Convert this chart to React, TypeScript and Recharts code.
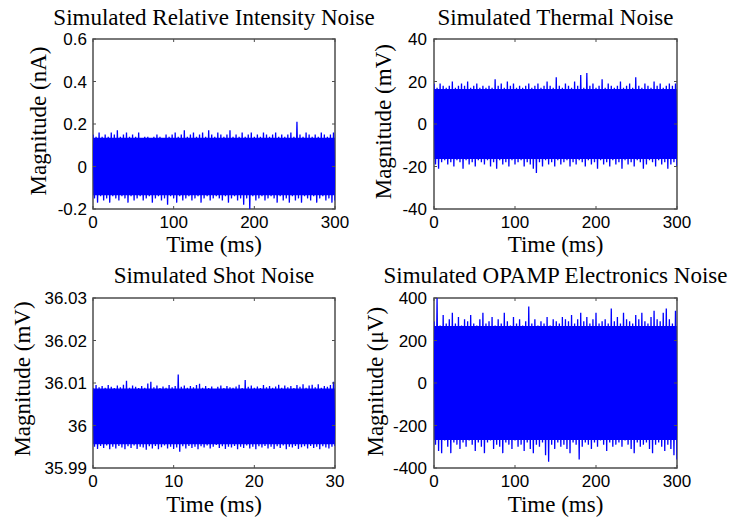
import React from 'react';
import { ComposedChart, Line, Area, XAxis, YAxis, ReferenceArea } from 'recharts';

// ---------- data (envelope of the simulated noise traces) ----------
const rinUpper = [
  0.15, 0.14, 0.16, 0.14, 0.15, 0.14, 0.16, 0.15, 0.17, 0.14,
  0.15, 0.16, 0.14, 0.15, 0.14, 0.16, 0.13, 0.14, 0.14, 0.13,
  0.14, 0.15, 0.14, 0.13, 0.15, 0.14, 0.15, 0.16, 0.14, 0.15,
  0.17, 0.14, 0.15, 0.16, 0.14, 0.15, 0.16, 0.14, 0.17, 0.15,
  0.14, 0.16, 0.15, 0.14, 0.15, 0.17, 0.14, 0.15, 0.14, 0.16,
  0.14, 0.15, 0.16, 0.14, 0.15, 0.14, 0.16, 0.15, 0.14, 0.15,
  0.16, 0.14, 0.15, 0.14, 0.15, 0.16, 0.14, 0.21, 0.15, 0.14,
  0.16, 0.15, 0.14, 0.15, 0.14, 0.16, 0.15, 0.14, 0.15, 0.16,
];
const rinLower = [
  -0.15, -0.17, -0.14, -0.16, -0.15, -0.17, -0.14, -0.15, -0.16, -0.14,
  -0.15, -0.17, -0.14, -0.16, -0.15, -0.14, -0.16, -0.15, -0.14, -0.17,
  -0.15, -0.14, -0.16, -0.15, -0.18, -0.14, -0.15, -0.17, -0.14, -0.16,
  -0.15, -0.14, -0.16, -0.15, -0.14, -0.17, -0.15, -0.14, -0.16, -0.15,
  -0.14, -0.15, -0.16, -0.14, -0.17, -0.15, -0.14, -0.16, -0.15, -0.18,
  -0.15, -0.2, -0.14, -0.16, -0.15, -0.14, -0.16, -0.15, -0.14, -0.15,
  -0.17, -0.14, -0.16, -0.15, -0.17, -0.14, -0.16, -0.15, -0.17, -0.14,
  -0.15, -0.16, -0.14, -0.17, -0.15, -0.14, -0.16, -0.15, -0.17, -0.16,
];
const rinCore = [-0.135, 0.135];

const thermalUpper = [
  19, 17, 19, 18, 17, 18, 20, 17, 18, 19,
  18, 20, 17, 18, 19, 17, 18, 17, 18, 17,
  21, 18, 19, 17, 20, 18, 19, 17, 18, 17,
  18, 19, 17, 18, 19, 17, 18, 20, 18, 17,
  22, 18, 17, 19, 18, 17, 20, 18, 23, 17,
  24, 18, 19, 17, 18, 21, 17, 19, 18, 17,
  18, 20, 17, 18, 19, 17, 22, 18, 17, 19,
  18, 17, 20, 18, 19, 17, 18, 19, 18, 19,
];
const thermalLower = [
  -19, -21, -18, -17, -19, -18, -20, -17, -18, -21,
  -17, -19, -18, -20, -17, -18, -19, -17, -20, -18,
  -21, -17, -19, -18, -20, -17, -19, -18, -17, -20,
  -18, -19, -21, -23, -18, -20, -17, -19, -18, -20,
  -17, -19, -18, -17, -20, -18, -19, -17, -18, -20,
  -17, -19, -18, -21, -17, -19, -18, -20, -17, -19,
  -18, -21, -17, -19, -18, -20, -17, -18, -21, -19,
  -17, -18, -20, -17, -19, -18, -21, -19, -18, -20,
];
const thermalCore = [-16.5, 16.5];

const shotUpper = [
  36.0088, 36.0095, 36.009, 36.0093, 36.0089, 36.0095, 36.0091, 36.0088, 36.0094, 36.009,
  36.0096, 36.0105, 36.0089, 36.0094, 36.0091, 36.0088, 36.0093, 36.0089, 36.0099, 36.0103,
  36.009, 36.0094, 36.0088, 36.0092, 36.0089, 36.0095, 36.009, 36.0093, 36.012, 36.0091,
  36.0094, 36.0089, 36.0093, 36.009, 36.0095, 36.0098, 36.0089, 36.0093, 36.0088, 36.0092,
  36.0086, 36.0091, 36.0094, 36.0088, 36.0093, 36.009, 36.0089, 36.0092, 36.0096, 36.0088,
  36.0107, 36.0091, 36.0094, 36.0089, 36.0092, 36.0088, 36.0095, 36.009, 36.0093, 36.0089,
  36.0092, 36.0096, 36.0089, 36.0094, 36.009, 36.0093, 36.0088, 36.0095, 36.0091, 36.0097,
  36.0089, 36.0094, 36.0096, 36.009, 36.0097, 36.0089, 36.0093, 36.0091, 36.0095, 36.0103,
];
const shotLower = [
  35.995, 35.9945, 35.9952, 35.9947, 35.9953, 35.9944, 35.995, 35.9946, 35.9952, 35.9948,
  35.9944, 35.9951, 35.9947, 35.9953, 35.9945, 35.995, 35.9948, 35.9943, 35.9951, 35.9946,
  35.9952, 35.9944, 35.9949, 35.9953, 35.9946, 35.995, 35.9945, 35.9948, 35.9938, 35.9951,
  35.9946, 35.9952, 35.9947, 35.995, 35.9944, 35.9951, 35.9948, 35.9953, 35.9946, 35.995,
  35.9954, 35.9947, 35.9951, 35.9945, 35.995, 35.9948, 35.9952, 35.9944, 35.995, 35.9947,
  35.9953, 35.9946, 35.995, 35.9944, 35.9951, 35.9948, 35.9952, 35.9946, 35.995, 35.9945,
  35.9951, 35.9947, 35.9953, 35.9944, 35.995, 35.9948, 35.9952, 35.9945, 35.9949, 35.9951,
  35.9946, 35.9952, 35.9947, 35.995, 35.9944, 35.9951, 35.9948, 35.9946, 35.995, 35.9952,
];
const shotCore = [35.9956, 36.0087];

const opampUpper = [
  290, 400, 270, 320, 280, 300, 330, 280, 310, 270,
  300, 290, 320, 280, 270, 300, 330, 280, 290, 310,
  270, 300, 280, 330, 290, 270, 310, 280, 300, 270,
  290, 360, 280, 300, 270, 290, 280, 310, 270, 300,
  290, 280, 310, 300, 290, 320, 280, 300, 330, 290,
  310, 280, 300, 330, 280, 290, 300, 280, 350, 290,
  310, 280, 330, 300, 290, 280, 320, 300, 330, 290,
  280, 310, 340, 300, 290, 330, 350, 300, 280, 340,
];
const opampLower = [
  -290, -320, -330, -270, -300, -330, -280, -290, -310, -280,
  -300, -270, -290, -320, -280, -300, -330, -280, -270, -310,
  -290, -300, -330, -280, -290, -310, -270, -300, -290, -320,
  -280, -310, -330, -290, -300, -280, -340, -370, -290, -310,
  -280, -300, -290, -310, -330, -280, -290, -360, -300, -280,
  -290, -310, -280, -300, -270, -290, -320, -280, -300, -290,
  -280, -300, -270, -290, -310, -330, -280, -300, -290, -280,
  -310, -330, -290, -280, -300, -320, -290, -310, -340, -360,
];
const opampCore = [-268, 268];

const xTicks300 = [0, 100, 200, 300];
const xTicks30 = [0, 10, 20, 30];
const yTicksRin = [-0.2, 0, 0.2, 0.4, 0.6];
const yTicksThermal = [-40, -20, 0, 20, 40];
const yTicksShot = [35.99, 36, 36.01, 36.02, 36.03];
const yTicksOpamp = [-400, -200, 0, 200, 400];

const titles = [
  'Simulated Relative Intensity Noise',
  'Simulated Thermal Noise',
  'Simulated Shot Noise',
  'Simulated OPAMP Electronics Noise',
];
const yLabels = ['Magnitude (nA)', 'Magnitude (mV)', 'Magnitude (mV)', 'Magnitude (\u03BCV)'];
const xLabel = 'Time (ms)';

// ---------- helpers ----------
function buildRows(upper: number[], lower: number[], tMax: number, core: number[]) {
  const n = upper.length;
  const total = 2 * n;
  const rows: any[] = [];
  for (let i = 0; i < n; i++) {
    rows.push({ t: ((2 * i) * tMax) / (total - 1), v: upper[i], core });
    rows.push({ t: ((2 * i + 1) * tMax) / (total - 1), v: lower[i], core });
  }
  return rows;
}

const BLUE = '#0000ff';
const AXIS = '#4d4d4d';
const SANS = '"Liberation Sans", Arial, sans-serif';
const SERIF = '"Liberation Serif", "Times New Roman", serif';
const TICK_LEN = 3;
const PAD_L = 100;
const PAD_T = 40;
const PAD_R = 40;
const PAD_B = 50;
const BOT_AX = 30;

const LeftTick = (gap: number) => (props: any) => {
  const { x, y, payload } = props;
  return (
    <g>
      <line x1={x} y1={y} x2={x + TICK_LEN} y2={y} stroke={AXIS} strokeWidth={1} />
      <text x={x - gap} y={y} dy="0.36em" textAnchor="end" fontFamily={SANS} fontSize={17} fill="#000">
        {String(payload.value)}
      </text>
    </g>
  );
};
const RightTick = (props: any) => {
  const { x, y } = props;
  return <line x1={x - TICK_LEN} y1={y} x2={x} y2={y} stroke={AXIS} strokeWidth={1} />;
};
const TopTick = (props: any) => {
  const { x, y } = props;
  return <line x1={x} y1={y} x2={x} y2={y + TICK_LEN} stroke={AXIS} strokeWidth={1} />;
};
const BottomTick = (props: any) => {
  const { x, y, payload } = props;
  return (
    <g>
      <line x1={x} y1={y - TICK_LEN} x2={x} y2={y} stroke={AXIS} strokeWidth={1} />
      <text x={x} y={y + 18.5} textAnchor="middle" fontFamily={SANS} fontSize={17} fill="#000">
        {String(payload.value)}
      </text>
    </g>
  );
};

type PanelProps = {
  left: number; top: number; w: number; h: number;
  rows: any[]; xDomain: number[]; yDomain: number[];
  xTicks: number[]; yTicks: number[]; gap: number;
};

function Panel({ left, top, w, h, rows, xDomain, yDomain, xTicks, yTicks, gap }: PanelProps) {
  return (
    <div style={{ position: 'absolute', left: left - PAD_L, top: top - PAD_T }}>
      <ComposedChart
        width={PAD_L + w + PAD_R}
        height={PAD_T + h + PAD_B}
        data={rows}
        margin={{ top: PAD_T - 1, right: PAD_R - 1, bottom: PAD_B - BOT_AX, left: 0 }}
      >
        <XAxis xAxisId="b" dataKey="t" type="number" domain={xDomain} ticks={xTicks} allowDataOverflow
          orientation="bottom" height={BOT_AX} tickSize={0} tickMargin={0} tickLine={false}
          axisLine={false} tick={BottomTick} interval={0} />
        <XAxis xAxisId="t" dataKey="t" type="number" domain={xDomain} ticks={xTicks} allowDataOverflow
          orientation="top" height={1} tickSize={0} tickMargin={0} tickLine={false}
          axisLine={false} tick={TopTick} interval={0} />
        <YAxis yAxisId="l" type="number" domain={yDomain} ticks={yTicks} allowDataOverflow
          orientation="left" width={PAD_L} tickSize={0} tickMargin={0} tickLine={false}
          axisLine={false} tick={LeftTick(gap)} interval={0} />
        <YAxis yAxisId="r" type="number" domain={yDomain} ticks={yTicks} allowDataOverflow
          orientation="right" width={1} tickSize={0} tickMargin={0} tickLine={false}
          axisLine={false} tick={RightTick} interval={0} />
        <Area xAxisId="b" yAxisId="l" dataKey="core" type="linear" fill={BLUE} fillOpacity={1}
          stroke="none" isAnimationActive={false} />
        <Line xAxisId="b" yAxisId="l" dataKey="v" type="linear" stroke={BLUE} strokeWidth={1.3}
          dot={false} activeDot={false} isAnimationActive={false} />
        <ReferenceArea xAxisId="b" yAxisId="l" x1={xDomain[0]} x2={xDomain[1]} y1={yDomain[0]} y2={yDomain[1]}
          fill="none" fillOpacity={0} stroke={AXIS} strokeWidth={1.5} ifOverflow="visible" />
      </ComposedChart>
    </div>
  );
}

const panels = [
  { left: 93, top: 39, w: 242, h: 170, rows: buildRows(rinUpper, rinLower, 300, rinCore),
    xDomain: [0, 300], yDomain: [-0.2, 0.6], xTicks: xTicks300, yTicks: yTicksRin, gap: 6 },
  { left: 434, top: 39, w: 243, h: 170, rows: buildRows(thermalUpper, thermalLower, 300, thermalCore),
    xDomain: [0, 300], yDomain: [-40, 40], xTicks: xTicks300, yTicks: yTicksThermal, gap: 7 },
  { left: 93, top: 298, w: 242, h: 170, rows: buildRows(shotUpper, shotLower, 30, shotCore),
    xDomain: [0, 30], yDomain: [35.99, 36.03], xTicks: xTicks30, yTicks: yTicksShot, gap: 6 },
  { left: 434, top: 298, w: 243, h: 170, rows: buildRows(opampUpper, opampLower, 300, opampCore),
    xDomain: [0, 300], yDomain: [-400, 400], xTicks: xTicks300, yTicks: yTicksOpamp, gap: 7 },
];

const titlePos = [
  { x: 214, y: 25 }, { x: 555.5, y: 25 }, { x: 214, y: 283 }, { x: 555.5, y: 283 },
];
const xLabelPos = [
  { x: 214, y: 252 }, { x: 555.5, y: 252 }, { x: 214, y: 511.5 }, { x: 555.5, y: 511.5 },
];
const yLabelPos = [
  { x: 45.5, y: 121 }, { x: 391.2, y: 121.7 }, { x: 30.2, y: 379 }, { x: 383, y: 381.7 },
];

export default function App() {
  return (
    <div style={{ position: 'absolute', left: 0, top: 0, width: 732, height: 520, background: '#fff', overflow: 'hidden' }}>
      {panels.map((p, i) => (
        <Panel key={i} {...p} />
      ))}
      <svg width={732} height={520} style={{ position: 'absolute', left: 0, top: 0, pointerEvents: 'none' }}>
        {titles.map((t, i) => (
          <text key={'t' + i} x={titlePos[i].x} y={titlePos[i].y} textAnchor="middle" fontFamily={SERIF} fontSize={23} fill="#000">
            {t}
          </text>
        ))}
        {xLabelPos.map((p, i) => (
          <text key={'x' + i} x={p.x} y={p.y} textAnchor="middle" fontFamily={SERIF} fontSize={23} fill="#000">
            {xLabel}
          </text>
        ))}
        {yLabels.map((t, i) => (
          <text key={'y' + i} x={yLabelPos[i].x} y={yLabelPos[i].y} textAnchor="middle" fontFamily={SERIF} fontSize={23} fill="#000"
            transform={`rotate(-90, ${yLabelPos[i].x}, ${yLabelPos[i].y})`}>
            {t}
          </text>
        ))}
      </svg>
    </div>
  );
}
